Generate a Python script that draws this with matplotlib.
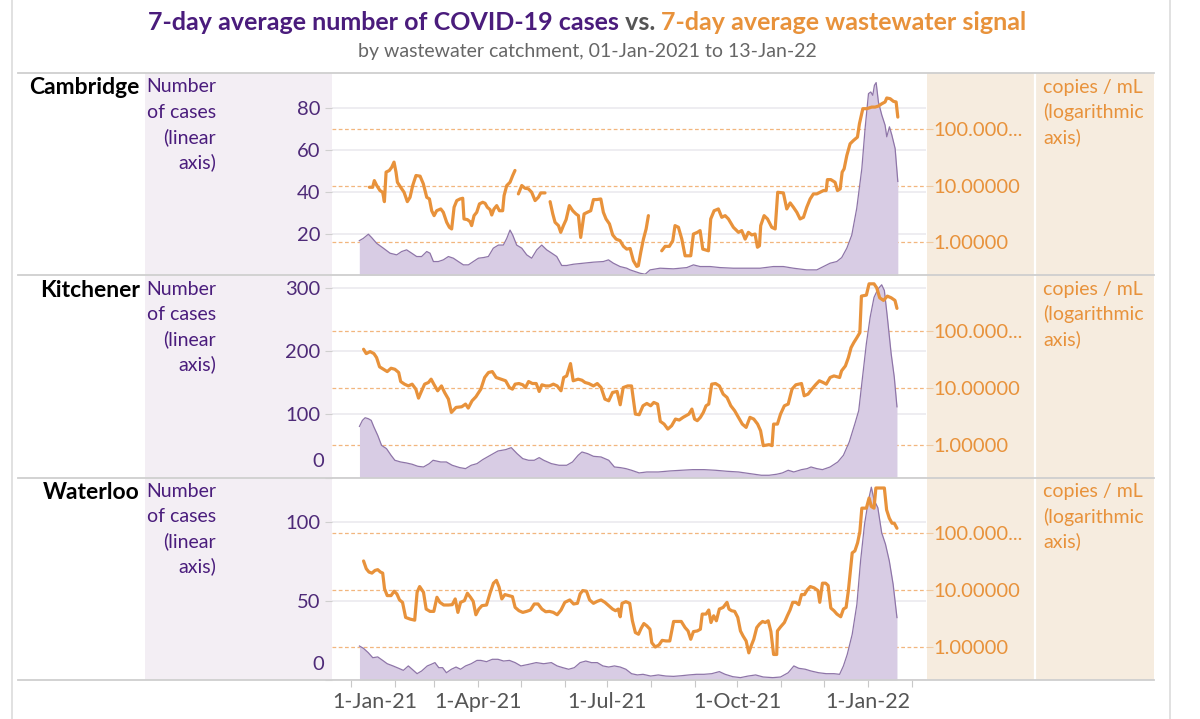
import numpy as np
import matplotlib
matplotlib.use("Agg")
import matplotlib.pyplot as plt
import matplotlib.dates as mdates
from matplotlib.ticker import FixedLocator, FuncFormatter, NullLocator, NullFormatter
from matplotlib.patches import Rectangle
from matplotlib.lines import Line2D

plt.rcParams['font.family'] = ['Lato', 'DejaVu Sans']

# ---------------------------------------------------------------- data
regions = ["Cambridge", "Kitchener", "Waterloo"]
start_date = "2021-01-01"

# day offsets from 1-Jan-2021, 7-day average cases
cam_case_day = [6.1, 8.9, 12.5, 14.8, 18.4, 23.1, 27.8, 32.5, 36.0, 39.5,
                43.1, 46.6, 50.1, 53.7, 56.0, 58.4, 61.9, 65.4, 69.0, 72.5,
                76.0, 79.6, 83.1, 86.6, 90.2, 93.7, 97.2, 100.7, 104.3, 107.8,
                110.2, 112.5, 114.4, 117.2, 120.8, 124.3, 127.8, 131.4, 134.9, 138.4,
                142.0, 145.5, 149.0, 152.5, 157.2, 164.3, 171.4, 178.4, 182.0, 185.5,
                190.2, 194.9, 197.3, 204.3, 207.9, 211.4, 218.4, 227.9, 237.3, 242.0,
                246.7, 253.8, 260.8, 270.2, 279.7, 289.1, 298.5, 305.5, 312.6, 322.0,
                329.1, 333.8, 338.5, 343.2, 346.7, 350.3, 353.8, 357.3, 360.9, 363.2,
                365.6, 367.2, 368.6, 369.8, 371.0, 372.6, 375.0, 377.3, 378.5, 380.4,
                382.1, 384.4, 386.3]
cam_case_val = [16.6, 17.7, 19.7, 18.1, 15.3, 13.0, 10.6, 9.8, 11.4, 12.2,
                10.6, 9.0, 9.0, 11.4, 10.6, 6.6, 6.6, 7.4, 9.0, 8.2,
                6.6, 5.0, 5.0, 6.6, 8.2, 8.5, 9.0, 13.0, 14.5, 14.5,
                17.7, 21.7, 19.3, 14.5, 13.0, 9.8, 8.2, 12.2, 14.5, 12.2,
                10.6, 9.0, 4.7, 4.7, 5.3, 5.8, 6.3, 6.6, 7.4, 5.8,
                4.2, 3.4, 2.6, 1.0, 0.5, 2.6, 3.4, 3.1, 3.7, 5.0,
                4.2, 4.2, 3.7, 3.4, 3.4, 3.4, 4.2, 4.2, 3.4, 2.6,
                2.6, 4.2, 5.8, 6.6, 8.5, 13.0, 19.3, 32.1, 51.2, 70.4,
                87.1, 87.9, 86.3, 91.1, 92.4, 83.1, 76.8, 72.0, 66.4, 71.2,
                67.2, 60.8, 45.0]

# 7-day average wastewater signal (copies / mL); nan = no data
cam_ww_day = [13.2, 15.5, 16.7, 18.4, 20.7, 22.6, 23.8, 25.0, 27.3, 29.0,
              30.6, 32.0, 33.0, 35.3, 37.7, 40.0, 41.9, 43.8, 46.1, 49.0,
              51.3, 53.7, 55.6, 57.2, 58.9, 60.7, 63.6, 65.4, 67.8, 69.7,
              71.3, 73.0, 74.9, 77.2, 79.1, 80.0, 82.4, 84.3, 85.4, 87.1,
              89.0, 90.9, 93.2, 94.9, 96.5, 98.4, 99.6, 101.2, 103.1, 105.0,
              107.3, 108.3, 110.2, 112.5, 114.4, 116.0, 117.2, 118.4, 120.8, 123.1,
              125.5, 127.8, 130.2, 132.5, 134.2, 137.2, 139.0, 140.8, 142.7, 144.3,
              146.7, 148.3, 150.2, 152.1, 154.4, 156.8, 159.1, 160.8, 162.4, 164.8,
              167.1, 169.5, 171.4, 173.7, 176.6, 178.4, 180.3, 182.7, 185.0, 187.4,
              190.2, 192.6, 194.9, 197.3, 199.6, 202.0, 203.1, 204.8, 206.7, 208.6,
              210.2, 215.0, 219.6, 222.0, 225.0, 227.4, 229.0, 231.4, 233.8, 236.1,
              240.1, 242.0, 244.8, 246.7, 248.6, 252.6, 254.2, 256.6, 259.6, 262.0,
              264.4, 266.7, 270.2, 273.8, 276.1, 278.5, 280.8, 283.2, 285.5, 287.2,
              288.6, 289.5, 291.9, 294.3, 297.3, 299.7, 301.5, 305.5, 307.9, 310.3,
              312.6, 315.0, 317.3, 319.7, 322.0, 324.4, 326.7, 329.1, 331.4, 333.8,
              335.7, 336.6, 339.0, 342.0, 343.7, 345.6, 347.0, 348.4, 350.3, 352.6,
              355.0, 357.8, 359.2, 361.6, 364.4, 367.9, 370.3, 372.6, 375.0, 377.3,
              378.5, 380.9, 383.2, 385.1, 386.3]
nan = float("nan")
cam_ww_val = [9.33, 9.3, 12.2, 10.0, 8.15, 7.6, 5.2, 17.2, 18.4, 21.0,
              25.8, 17.2, 11.4, 9.3, 7.6, 5.2, 6.2, 10.0, 15.0, 14.6,
              10.7, 6.2, 5.8, 3.6, 2.95, 3.6, 3.87, 3.38, 2.25, 1.84,
              1.72, 4.14, 5.43, 5.8, 5.97, 2.58, 2.51, 2.31, 1.97, 2.95,
              3.38, 4.74, 5.07, 4.87, 4.14, 3.77, 3.03, 3.87, 4.43, 3.6,
              3.6, 6.65, 10.0, 11.4, 15.0, 18.4, nan, 7.12, 10.0, 8.96,
              8.73, 7.6, 5.43, 6.2, 7.41, 7.41, nan, 5.2, 3.16, 2.25,
              1.97, 1.50, 1.97, 2.51, 4.43, 3.6, 3.16, 2.95, 1.22, 3.16,
              3.38, 3.6, 5.66, 5.66, 5.8, 3.38, 2.58, 2.11, 1.35, 1.14,
              1.07, 0.85, 0.76, 0.78, 0.475, 0.377, 0.388, 0.667, 1.14, 1.72,
              2.95, nan, 0.71, 0.85, 0.85, 1.07, 1.97, 1.84, 1.14, 0.58,
              0.58, 1.40, 1.50, 1.61, 0.76, 0.71, 2.58, 3.6, 3.87, 2.76,
              2.95, 2.58, 1.84, 1.50, 1.61, 1.14, 1.50, 1.35, 1.40, 0.82,
              0.87, 1.97, 2.95, 2.58, 1.84, 1.72, 7.6, 7.41, 3.87, 4.94,
              4.14, 3.38, 2.58, 2.76, 4.14, 5.8, 7.12, 7.12, 7.6, 8.15,
              8.15, 12.7, 12.7, 11.4, 8.15, 8.73, 17.2, 19.7, 33.8, 54.2,
              62.1, 71.1, 122, 225, 225, 240, 240, 250, 275, 295,
              347, 337, 303, 295, 160]

kit_case_day = [6.2, 8.3, 10.2, 12.4, 14.5, 16.4, 19.1, 21.8, 25.3, 28.5,
                31.2, 35.3, 39.3, 43.4, 47.4, 51.4, 55.5, 58.2, 63.6, 67.6,
                71.7, 77.0, 81.1, 85.1, 89.2, 93.2, 98.6, 104.0, 109.4, 113.4,
                117.5, 121.5, 125.6, 129.6, 133.1, 136.3, 141.7, 147.1, 152.5, 156.6,
                160.6, 163.3, 167.3, 171.4, 176.8, 182.2, 186.2, 190.3, 194.3, 198.3,
                203.7, 209.1, 217.2, 225.3, 233.4, 241.5, 249.5, 257.6, 265.7, 273.8,
                281.9, 290.0, 295.4, 300.8, 304.8, 308.9, 312.9, 318.3, 322.3, 325.0,
                329.1, 333.1, 338.5, 343.9, 347.9, 352.0, 356.0, 358.7, 361.4, 364.1,
                366.8, 369.5, 372.2, 374.9, 376.8, 378.9, 381.6, 383.8, 385.7]
kit_case_val = [81, 90.5, 94.7, 93.2, 90.5, 80, 66.8, 51, 45.8, 35.3,
                27.4, 24.7, 23.2, 21.1, 17.9, 16.8, 22.1, 27.4, 24.7, 24.7,
                19.5, 15.8, 14.2, 19.5, 22.1, 28.4, 35.3, 42.1, 44.2, 47.4,
                37.9, 30, 27.4, 27.4, 31.6, 27.4, 22.1, 19.5, 19.5, 24.7,
                35.3, 40.5, 37.9, 33.7, 32.6, 27.4, 16.8, 15.8, 14.2, 11.6,
                7.4, 8.9, 8.9, 10.5, 11.6, 12.6, 12.6, 11.6, 10, 8.9,
                6.3, 3.7, 3.7, 5.3, 7.4, 11.6, 8.9, 12.6, 14.2, 16.8,
                14.2, 12.6, 16.8, 24.7, 35.3, 56.3, 85.3, 106, 159, 212,
                254, 285, 298, 305, 296, 254, 196, 159, 112]

kit_ww_day = [9.1, 11.0, 13.7, 16.4, 18.3, 20.4, 23.1, 25.8, 28.5, 31.2,
              33.9, 35.3, 38.0, 40.7, 43.4, 46.0, 47.9, 50.1, 52.2, 54.9,
              56.8, 58.7, 61.4, 64.1, 66.3, 69.0, 71.1, 74.4, 78.4, 81.1,
              83.0, 85.7, 88.4, 91.9, 94.6, 97.3, 100.0, 102.7, 106.2, 109.4,
              112.1, 114.2, 116.1, 118.8, 121.5, 123.4, 125.6, 128.3, 131.0, 133.1,
              135.0, 137.7, 140.4, 143.1, 145.8, 148.5, 150.4, 152.5, 155.2, 157.1,
              160.6, 163.3, 165.5, 168.1, 171.4, 174.1, 176.8, 179.5, 182.2, 184.9,
              188.1, 190.3, 192.4, 195.6, 198.3, 201.0, 203.7, 206.4, 209.1, 211.8,
              214.0, 216.7, 218.6, 221.3, 223.9, 226.6, 229.3, 232.0, 234.7, 238.8,
              240.9, 242.8, 244.7, 246.9, 249.0, 250.9, 252.8, 254.9, 257.6, 260.3,
              263.0, 265.7, 268.4, 271.1, 273.8, 276.5, 279.2, 281.9, 284.6, 287.3,
              289.4, 291.3, 295.4, 297.5, 298.6, 301.3, 303.5, 306.2, 308.9, 311.6,
              314.3, 318.3, 320.2, 322.9, 325.6, 328.2, 330.9, 333.6, 335.8, 338.5,
              341.2, 345.2, 346.6, 349.3, 351.4, 353.3, 355.2, 357.4, 359.5, 360.6,
              364.1, 366.0, 369.5, 371.4, 373.5, 376.2, 378.9, 381.6, 384.3, 385.7]
kit_ww_val = [47.7, 40.0, 43.4, 40.0, 34.0, 23.4, 21.2, 19.3, 22.1, 21.2,
              18.6, 12.9, 11.6, 10.8, 11.6, 9.48, 6.59, 8.86, 11.6, 12.4,
              14.2, 11.6, 8.86, 10.8, 8.28, 6.33, 3.69, 4.52, 4.64, 5.17,
              4.40, 5.91, 6.95, 9.48, 15.2, 18.6, 19.3, 15.2, 14.2, 13.3,
              10.1, 9.48, 11.6, 11.9, 11.3, 10.1, 12.9, 11.9, 11.9, 8.63,
              11.3, 10.8, 10.8, 11.6, 10.8, 8.86, 15.2, 16.2, 26.7, 13.3,
              14.2, 13.6, 12.4, 11.9, 10.8, 11.9, 10.1, 6.33, 5.91, 8.28,
              8.63, 5.03, 10.1, 10.8, 10.8, 3.45, 3.36, 4.83, 5.31, 4.83,
              5.53, 5.17, 2.57, 2.30, 1.88, 2.15, 2.82, 2.71, 3.02, 3.45,
              4.22, 2.82, 2.64, 3.02, 3.69, 4.83, 5.17, 11.6, 11.9, 10.8,
              7.74, 6.77, 4.83, 3.95, 3.02, 2.30, 2.01, 3.02, 2.82, 2.30,
              1.76, 0.96, 1.0, 0.96, 2.30, 2.30, 3.45, 4.83, 5.17, 9.48,
              11.3, 11.9, 7.24, 7.74, 9.48, 11.3, 13.3, 12.4, 11.6, 15.2,
              16.2, 15.2, 19.9, 24.3, 34.0, 51.0, 62.4, 76.4, 93.5, 411,
              428, 676, 676, 575, 384, 345, 411, 384, 345, 250]

wat_case_day = [6.2, 9.1, 12.4, 15.6, 19.1, 22.6, 25.8, 29.9, 33.9, 37.2,
                40.7, 43.4, 46.9, 50.1, 54.1, 56.8, 59.5, 62.2, 64.9, 67.6,
                71.1, 74.4, 77.6, 81.1, 85.1, 89.2, 91.9, 95.9, 100.0, 104.0,
                108.0, 112.1, 116.1, 120.2, 125.6, 131.0, 136.3, 141.7, 145.8, 149.8,
                153.9, 157.9, 162.0, 166.0, 170.0, 174.1, 178.1, 182.2, 186.2, 190.3,
                194.3, 198.3, 202.4, 206.4, 211.8, 217.2, 222.6, 228.0, 233.4, 238.8,
                244.2, 249.5, 254.9, 260.3, 264.4, 269.8, 275.2, 280.6, 285.9, 291.3,
                298.1, 303.5, 308.9, 312.9, 316.4, 321.0, 325.0, 330.4, 335.8, 341.2,
                345.2, 347.9, 350.6, 354.1, 357.4, 360.0, 362.8, 365.4, 367.6, 369.5,
                372.2, 374.9, 377.6, 380.3, 383.0, 385.7]
wat_case_val = [21.5, 20.0, 17.3, 14.1, 14.6, 12.4, 10.3, 8.9, 7.4, 6.1,
                8.9, 6.8, 4.0, 5.7, 8.9, 9.9, 11.0, 7.8, 7.8, 4.6,
                6.8, 8.2, 6.8, 8.9, 10.3, 12.4, 12.4, 11.6, 13.1, 13.1,
                12.0, 12.4, 11.0, 8.9, 9.9, 11.0, 10.3, 11.0, 8.9, 7.8,
                6.8, 7.8, 11.0, 12.0, 11.0, 11.0, 8.9, 8.2, 8.9, 8.2,
                6.8, 4.0, 3.2, 3.6, 2.5, 3.2, 2.5, 2.3, 2.7, 3.2,
                3.6, 3.6, 4.0, 5.3, 3.6, 2.1, 1.5, 2.5, 3.2, 1.9,
                1.5, 1.9, 4.6, 8.9, 7.4, 6.8, 5.7, 4.6, 4.0, 4.0,
                3.6, 8.9, 16.2, 28.9, 47.9, 75.3, 98.5, 113, 122, 114,
                109, 93.2, 85.9, 75.3, 60.5, 39.5]

wat_ww_day = [9.1, 11.0, 12.9, 15.0, 17.2, 19.1, 21.0, 22.6, 23.9, 25.8,
              28.5, 30.7, 32.6, 34.5, 36.6, 38.8, 42.0, 45.2, 46.9, 48.7,
              51.4, 53.3, 56.0, 58.7, 60.9, 63.0, 65.7, 69.0, 71.7, 73.8,
              75.7, 77.6, 80.3, 82.4, 84.6, 86.5, 88.4, 90.5, 92.7, 95.9,
              98.6, 100.8, 102.9, 104.8, 106.7, 108.9, 111.5, 114.2, 116.1, 118.8,
              121.5, 124.2, 126.9, 129.6, 132.3, 135.0, 137.7, 140.4, 143.1, 145.8,
              148.5, 151.2, 154.7, 157.4, 160.1, 162.0, 163.8, 166.5, 168.7, 171.4,
              174.1, 176.8, 179.5, 182.2, 184.9, 187.0, 188.9, 190.3, 191.6, 194.3,
              197.0, 198.9, 201.0, 203.2, 205.1, 207.0, 209.1, 211.3, 212.6, 215.1,
              217.7, 219.9, 222.6, 225.3, 228.0, 230.7, 233.4, 236.1, 238.2, 240.1,
              242.0, 244.7, 246.9, 248.2, 250.9, 252.8, 254.4, 256.3, 258.2, 260.3,
              263.0, 265.7, 267.1, 268.9, 271.1, 273.3, 275.2, 277.0, 279.2, 281.1,
              282.7, 284.6, 286.7, 288.6, 290.8, 292.7, 294.8, 296.7, 298.6, 300.8,
              301.3, 303.5, 306.2, 308.3, 310.2, 312.1, 314.3, 316.4, 318.3, 320.4,
              322.3, 324.5, 327.2, 329.9, 331.2, 333.1, 335.3, 337.1, 339.0, 341.2,
              343.3, 346.0, 347.9, 349.8, 351.4, 352.5, 354.1, 356.0, 357.9, 359.5,
              360.9, 364.1, 366.0, 367.6, 369.5, 370.8, 376.8, 378.4, 380.3, 382.2,
              383.8, 385.7]
wat_ww_val = [32.7, 23.9, 20.9, 20.0, 22.3, 23.0, 20.9, 20.0, 10.6, 8.04,
              8.04, 9.60, 8.61, 6.74, 6.12, 3.32, 3.10, 2.97, 9.21, 11.6,
              9.21, 4.66, 4.24, 4.24, 7.51, 6.12, 5.49, 5.49, 5.57, 7.02,
              4.07, 6.12, 6.56, 8.85, 7.51, 6.38, 3.70, 4.66, 5.35, 5.49,
              9.21, 13.3, 14.9, 11.3, 7.02, 8.38, 8.04, 7.72, 4.99, 4.36,
              4.07, 4.24, 4.48, 5.72, 5.72, 4.66, 4.18, 4.24, 4.07, 3.70,
              4.48, 6.12, 6.74, 5.72, 5.88, 8.61, 9.86, 9.60, 6.74, 5.88,
              6.38, 6.74, 6.12, 5.35, 4.66, 4.36, 4.66, 3.41, 5.88, 6.29,
              5.88, 2.90, 1.80, 1.68, 2.14, 2.59, 2.36, 2.06, 1.19, 1.0,
              1.09, 1.31, 1.28, 1.28, 2.82, 2.82, 2.82, 2.20, 1.92, 1.37,
              1.87, 1.92, 2.06, 3.80, 3.80, 4.48, 2.70, 3.55, 2.90, 4.66,
              4.99, 6.12, 4.66, 4.36, 4.24, 3.32, 1.92, 1.57, 1.28, 0.79,
              1.04, 1.37, 2.20, 2.53, 2.82, 2.70, 2.90, 1.87, 0.74, 0.74,
              1.92, 2.26, 2.70, 3.55, 4.48, 6.12, 6.12, 5.57, 8.38, 8.38,
              10.1, 11.6, 11.0, 9.86, 6.12, 13.3, 13.3, 12.1, 4.86, 4.36,
              3.80, 3.41, 4.66, 4.99, 9.86, 18.2, 45.4, 49.2, 68.3, 107,
              278, 278, 418, 297, 278, 629, 629, 259, 185, 151,
              151, 123]

case_ymax = [97, 320, 128]
case_yticks = [[20, 40, 60, 80], [0, 100, 200, 300], [0, 50, 100]]
ww_yticks = [1, 10, 100]
ww_ylim = (10 ** -0.58, 10 ** 2.98)
xlim_days = (-13.4, 406.2)
xlabel_dates = ["2021-01-01", "2021-04-01", "2021-07-01", "2021-10-01", "2022-01-01"]

title_parts = ["7-day average number of COVID-19 cases", " vs. ", "7-day average wastewater signal"]
subtitle = "by wastewater catchment, 01-Jan-2021 to 13-Jan-22"
left_label = ["Number", "of cases", "(linear", "axis)"]
right_label = ["copies / mL", "(logarithmic", "axis)"]

# ---------------------------------------------------------------- style
PURPLE_T = "#4A1C7C"
PURPLE_TICK = "#4E2A78"
GREY_T = "#555555"
ORANGE = "#E8923B"
FILL = "#D8CCE4"
EDGE = "#8E75A8"
GRID = "#E9E8EE"
DASH = "#F2B67E"

BASE = np.datetime64(start_date + "T00:00")


def to_dates(days):
    return BASE + np.round(np.asarray(days, dtype=float) * 1440).astype("timedelta64[m]")


W, H = 1200, 719
fig = plt.figure(figsize=(W / 100, H / 100), dpi=100)
fig.patch.set_facecolor("white")


def fx(px):
    return px / W


def fy(py):
    return 1 - py / H


PLOT_L, PLOT_R = 331.7, 926.0
ROW_TOPS = [73.0, 275.3, 477.7]
ROW_H = 202.3
ROW_BOT = 680.0

# background bands
fig.add_artist(Rectangle((fx(145), fy(ROW_BOT)), fx(PLOT_L) - fx(145), (ROW_BOT - 73) / H,
                         transform=fig.transFigure, facecolor="#F3EEF4", edgecolor="none", zorder=-2))
fig.add_artist(Rectangle((fx(927), fy(ROW_BOT)), fx(1154) - fx(927), (ROW_BOT - 73) / H,
                         transform=fig.transFigure, facecolor="#F6ECDF", edgecolor="none", zorder=-2))
fig.add_artist(Line2D([fx(1035)] * 2, [fy(73), fy(ROW_BOT)], transform=fig.transFigure,
                      color="white", lw=1.6, zorder=-1))
for py in [73.0, 275.3, 477.7, ROW_BOT]:
    fig.add_artist(Line2D([fx(18), fx(1154)], [fy(py)] * 2, transform=fig.transFigure,
                          color="#CFCFCF", lw=1.3, zorder=5))
for px in [12, 1170]:
    fig.add_artist(Line2D([fx(px)] * 2, [0, 1], transform=fig.transFigure,
                          color="#DCDCDC", lw=1.2, zorder=5))

# title (three coloured parts, centred)
renderer = fig.canvas.get_renderer()
colors = [PURPLE_T, GREY_T, ORANGE]
tparts = []
for s, c in zip(title_parts, colors):
    t = fig.text(0, fy(23), s, color=c, fontsize=18, fontweight="bold", ha="left", va="center")
    tparts.append(t)
widths = [t.get_window_extent(renderer).width for t in tparts]
x0 = 587 - sum(widths) / 2
for t, w in zip(tparts, widths):
    t.set_x(fx(x0))
    x0 += w
fig.text(fx(587), fy(51), subtitle, color="#666666", fontsize=14, ha="center", va="center")

xlim = (to_dates([xlim_days[0]])[0], to_dates([xlim_days[1]])[0])

series = [(cam_case_day, cam_case_val, cam_ww_day, cam_ww_val),
          (kit_case_day, kit_case_val, kit_ww_day, kit_ww_val),
          (wat_case_day, wat_case_val, wat_ww_day, wat_ww_val)]


def ww_fmt(v, pos):
    s = f"{v:.5f}"
    return s[:7] + "..." if len(s) > 8 else s


TICK_FS = 14.5
bottom_ax = None
for i, name in enumerate(regions):
    cd, cv, wd, wv = series[i]
    top = ROW_TOPS[i]
    rect = [fx(PLOT_L), fy(top + ROW_H), fx(PLOT_R) - fx(PLOT_L), ROW_H / H]

    axg = fig.add_axes(rect, label=f"grid{i}", zorder=1)
    axc = fig.add_axes(rect, label=f"case{i}", zorder=2)
    axw = fig.add_axes(rect, label=f"ww{i}", zorder=3)

    for a in (axg, axc, axw):
        for sp in a.spines.values():
            sp.set_visible(False)
        a.set_xlim(xlim)
    axc.patch.set_visible(False)
    axw.patch.set_visible(False)
    axg.set_facecolor("white")

    # log grid + right axis
    axg.set_yscale("log")
    axg.set_ylim(ww_ylim)
    axg.yaxis.set_major_locator(FixedLocator(ww_yticks))
    axg.yaxis.set_minor_locator(NullLocator())
    axg.yaxis.set_major_formatter(FuncFormatter(ww_fmt))
    axg.yaxis.tick_right()
    axg.tick_params(axis="y", length=5, width=0.8, color="#F2C99E", labelsize=TICK_FS,
                    labelcolor=ORANGE, pad=0.5)
    axg.grid(axis="y", color=DASH, lw=0.9, linestyle=(0, (3, 2)))
    axg.set_xticks([])

    # cases
    axc.set_ylim(0, case_ymax[i])
    axc.yaxis.set_major_locator(FixedLocator(case_yticks[i]))
    axc.yaxis.set_major_formatter(FuncFormatter(lambda v, p: "" if v == 0 else f"{v:.0f}"))
    axc.tick_params(axis="y", length=5, width=0.8, color="#CFCFCF", labelsize=TICK_FS,
                    labelcolor=PURPLE_TICK, pad=3)
    axc.grid(axis="y", color=GRID, lw=1.1)
    axc.set_axisbelow(True)
    if 0 in case_yticks[i]:
        axc.annotate("0", xy=(0, 0), xycoords=("axes fraction", "data"), xytext=(-8, 16),
                     textcoords="offset pixels", ha="right", va="center", fontsize=TICK_FS,
                     color=PURPLE_TICK, annotation_clip=False)
    x = to_dates(cd)
    axc.fill_between(x, 0, cv, color=FILL, lw=0, zorder=2)
    axc.plot(x, cv, color=EDGE, lw=0.9, zorder=3)

    # wastewater
    axw.set_yscale("log")
    axw.set_ylim(ww_ylim)
    axw.set_yticks([])
    axw.yaxis.set_minor_locator(NullLocator())
    axw.set_xticks([])
    axw.plot(to_dates(wd), wv, color=ORANGE, lw=2.3, solid_joinstyle="round",
             solid_capstyle="round")

    if i < 2:
        axc.set_xticks([])
    else:
        bottom_ax = axc
        axc.xaxis.set_major_locator(mdates.MonthLocator())
        axc.xaxis.set_major_formatter(NullFormatter())
        axc.tick_params(axis="x", length=5, width=0.8, color="#C8C8C8")

    # row texts
    fig.text(fx(140), fy(top + 15), name, ha="right", va="center", fontsize=16.5,
             fontweight="bold", color="black")
    for k, s in enumerate(left_label):
        fig.text(fx(216), fy(top + 14 + 25 * k), s, ha="right", va="center", fontsize=14,
                 color=PURPLE_T)
    for k, s in enumerate(right_label):
        fig.text(fx(1043), fy(top + 14 + 25 * k), s, ha="left", va="center", fontsize=14,
                 color=ORANGE)

# x labels (clamped inside the plot area like the original)
xl = []
for d in xlabel_dates:
    dd = np.datetime64(d)
    lab = f"{int(str(dd)[8:10])}-{mdates.num2date(mdates.date2num(dd)).strftime('%b-%y')}"
    a = bottom_ax.annotate(lab, xy=(dd, 0), xycoords=("data", "axes fraction"), xytext=(0, -22),
                           textcoords="offset pixels", ha="center", va="center", fontsize=15.5,
                           color="#555555", annotation_clip=False)
    xl.append(a)
fig.canvas.draw()
ax_x0 = bottom_ax.get_window_extent(renderer).x0
for a in xl:
    ext = a.get_window_extent(renderer)
    if ext.x0 < ax_x0:
        a.xyann = (ax_x0 - ext.x0 + 1, -22)

fig.savefig("out.png", dpi=100, facecolor="white")
